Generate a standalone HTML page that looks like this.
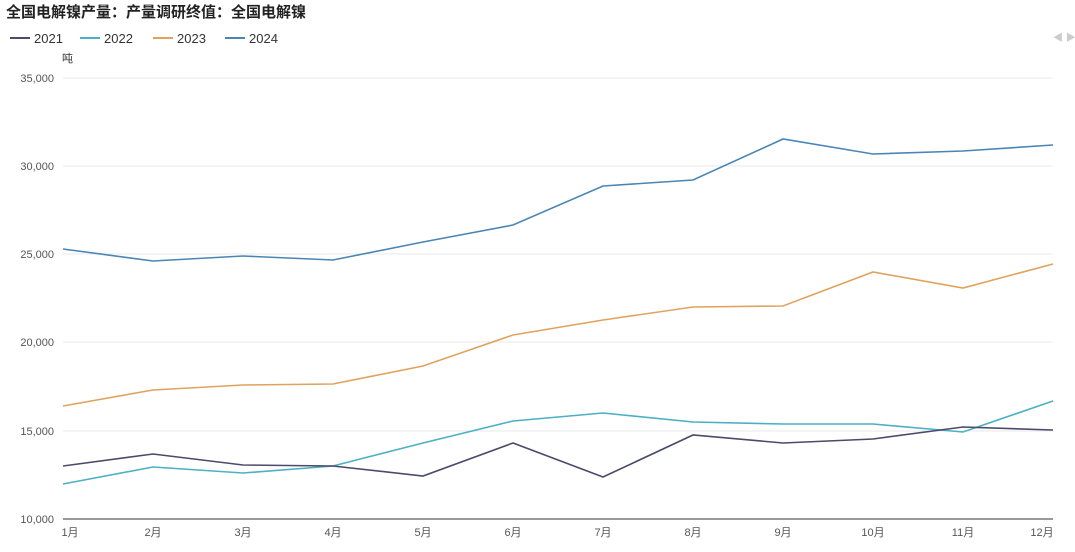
<!DOCTYPE html>
<html><head><meta charset="utf-8"><style>
body{margin:0;background:#fff;width:1075px;height:547px;overflow:hidden;font-family:"Liberation Sans","Noto Sans CJK SC",sans-serif}
</style></head><body>
<svg width="1075" height="547" xmlns="http://www.w3.org/2000/svg" font-family="Liberation Sans, Noto Sans CJK SC, sans-serif">
<text x="6" y="17" font-size="15" font-weight="bold" fill="#222">全国电解镍产量：产量调研终值：全国电解镍</text>
<g font-size="13" fill="#333">
<line x1="10" y1="38" x2="30" y2="38" stroke="#4a4a6a" stroke-width="2"/><text x="34" y="43">2021</text>
<line x1="80" y1="38" x2="100" y2="38" stroke="#4bb0c3" stroke-width="2"/><text x="104" y="43">2022</text>
<line x1="153" y1="38" x2="173" y2="38" stroke="#e0a35e" stroke-width="2"/><text x="177" y="43">2023</text>
<line x1="225" y1="38" x2="245" y2="38" stroke="#4a85b5" stroke-width="2"/><text x="249" y="43">2024</text>
</g>
<text x="1053" y="41" font-size="10" fill="#ccc">◀ ▶</text>
<text x="62" y="62" font-size="11" fill="#333">吨</text>
<g stroke="#e8e8e8" stroke-width="1">
<line x1="63" y1="78" x2="1053" y2="78"/><line x1="63" y1="166" x2="1053" y2="166"/>
<line x1="63" y1="254" x2="1053" y2="254"/><line x1="63" y1="342" x2="1053" y2="342"/>
<line x1="63" y1="431" x2="1053" y2="431"/>
</g>
<line x1="63" y1="519" x2="1053" y2="519" stroke="#333" stroke-width="1"/>
<g font-size="11" fill="#555" text-anchor="end">
<text x="54" y="82">35,000</text><text x="54" y="170">30,000</text><text x="54" y="258">25,000</text>
<text x="54" y="346">20,000</text><text x="54" y="435">15,000</text><text x="54" y="523">10,000</text>
</g>
<g font-size="11" fill="#555" text-anchor="middle">
<text x="70" y="536">1月</text><text x="153" y="536">2月</text><text x="243" y="536">3月</text><text x="333" y="536">4月</text>
<text x="423" y="536">5月</text><text x="513" y="536">6月</text><text x="603" y="536">7月</text><text x="693" y="536">8月</text>
<text x="783" y="536">9月</text><text x="873" y="536">10月</text><text x="963" y="536">11月</text><text x="1042" y="536">12月</text>
</g>
<g fill="none" stroke-width="1.6">
<polyline stroke="#4a85b5" points="63,249 153,261 243,256 333,260 423,242 513,225 603,186 693,180 783,139 873,154 963,151 1053,145"/>
<polyline stroke="#e0a35e" points="63,406 153,390 243,385 333,384 423,366 513,335 603,320 693,307 783,306 873,272 963,288 1053,264"/>
<polyline stroke="#4bb0c3" points="63,484 153,467 243,473 333,466 423,443 513,421 603,413 693,422 783,424 873,424 963,432 1053,401"/>
<polyline stroke="#4a4a6a" points="63,466 153,454 243,465 333,466 423,476 513,443 603,477 693,435 783,443 873,439 963,427 1053,430"/>
</g>
</svg>
</body></html>
